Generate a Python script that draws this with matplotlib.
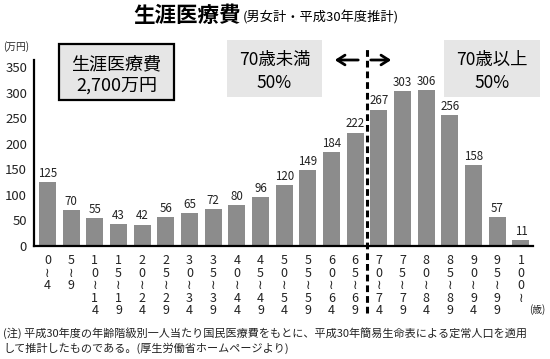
import matplotlib
matplotlib.use("Agg")
import matplotlib.pyplot as plt
from matplotlib.patches import Rectangle

plt.rcParams['font.family'] = ['Noto Sans CJK JP', 'DejaVu Sans']

age_groups = ["0\n≀\n4", "5\n≀\n9", "1\n0\n≀\n1\n4", "1\n5\n≀\n1\n9", "2\n0\n≀\n2\n4",
              "2\n5\n≀\n2\n9", "3\n0\n≀\n3\n4", "3\n5\n≀\n3\n9", "4\n0\n≀\n4\n4",
              "4\n5\n≀\n4\n9", "5\n0\n≀\n5\n4", "5\n5\n≀\n5\n9", "6\n0\n≀\n6\n4",
              "6\n5\n≀\n6\n9", "7\n0\n≀\n7\n4", "7\n5\n≀\n7\n9", "8\n0\n≀\n8\n4",
              "8\n5\n≀\n8\n9", "9\n0\n≀\n9\n4", "9\n5\n≀\n9\n9", "1\n0\n0\n≀"]
costs = [125, 70, 55, 43, 42, 56, 65, 72, 80, 96, 120, 149, 184, 222,
         267, 303, 306, 256, 158, 57, 11]
y_ticks = [0, 50, 100, 150, 200, 250, 300, 350]

W, H = 550, 359
fig = plt.figure(figsize=(5.5, 3.59), dpi=100)

def fx(px):
    return px / W

def fy(py):
    return 1 - py / H

ax = fig.add_axes([fx(34), fy(246), fx(533) - fx(34), fy(60) - fy(246)])
x = list(range(len(costs)))
bars = ax.bar(x, costs, width=0.72, color='#8c8c8c', zorder=2)
for xi, v in zip(x, costs):
    ax.annotate(str(v), (xi, v), xytext=(0, 1.5), textcoords='offset points',
                ha='center', va='bottom', fontsize=8.3, color='#222222')

ax.set_xlim(-0.57, 20.51)
ax.set_ylim(0, 364)
ax.set_yticks(y_ticks)
ax.set_yticklabels([str(t) for t in y_ticks], fontsize=9.5)
ax.set_xticks(x)
ax.set_xticklabels(age_groups, fontsize=9, linespacing=0.95, va='top')
ax.tick_params(axis='both', length=0, colors='#222222')
ax.tick_params(axis='y', pad=5)
ax.tick_params(axis='x', pad=6)
for s in ['top', 'right']:
    ax.spines[s].set_visible(False)
ax.spines['left'].set_linewidth(1.6)
ax.spines['bottom'].set_linewidth(1.6)

# dashed divider between 65-69 and 70-74
ax.axvline(13.5, ymin=-0.36, ymax=1.06, color='black', lw=2.2,
           linestyle=(0, (2.2, 1.3)), clip_on=False, zorder=3)

# arrows
ax.annotate('', xy=(fx(332), fy(60)), xytext=(fx(361), fy(60)),
            xycoords='figure fraction', textcoords='figure fraction',
            arrowprops=dict(arrowstyle='->,head_length=0.55,head_width=0.35', lw=2.0, color='black'))
ax.annotate('', xy=(fx(394), fy(60)), xytext=(fx(368), fy(60)),
            xycoords='figure fraction', textcoords='figure fraction',
            arrowprops=dict(arrowstyle='->,head_length=0.55,head_width=0.35', lw=2.0, color='black'))

# title
fig.text(fx(133), fy(16), '生涯医療費', fontsize=15.5, fontweight='bold', ha='left', va='center')
fig.text(fx(243), fy(18), '(男女計・平成30年度推計)', fontsize=9.5, ha='left', va='center')

fig.text(fx(3), fy(47), '(万円)', fontsize=7, ha='left', va='center', color='#222222')
fig.text(fx(545), fy(310), '(歳)', fontsize=7, ha='right', va='center', color='#222222')

# boxes
fig.patches.append(Rectangle((fx(59), fy(100)), fx(174) - fx(59), fy(44) - fy(100),
                             transform=fig.transFigure, facecolor='#e6e6e6',
                             edgecolor='black', lw=1.6))
fig.text(fx(116.5), fy(64), '生涯医療費', fontsize=13, ha='center', va='center')
fig.text(fx(116.5), fy(86), '2,700万円', fontsize=13, ha='center', va='center')

fig.patches.append(Rectangle((fx(227), fy(97)), fx(322) - fx(227), fy(40) - fy(97),
                             transform=fig.transFigure, facecolor='#e6e6e6', edgecolor='none'))
fig.text(fx(274.5), fy(60), '70歳未満', fontsize=12.5, ha='center', va='center')
fig.text(fx(274.5), fy(83), '50%', fontsize=12.5, ha='center', va='center')

fig.patches.append(Rectangle((fx(444), fy(97)), fx(540) - fx(444), fy(40) - fy(97),
                             transform=fig.transFigure, facecolor='#e6e6e6', edgecolor='none'))
fig.text(fx(492), fy(60), '70歳以上', fontsize=12.5, ha='center', va='center')
fig.text(fx(492), fy(83), '50%', fontsize=12.5, ha='center', va='center')

# footnote
fig.text(fx(3), fy(333), '(注) 平成30年度の年齢階級別一人当たり国民医療費をもとに、平成30年簡易生命表による定常人口を適用',
         fontsize=8, ha='left', va='center', color='#222222')
fig.text(fx(3), fy(348), 'して推計したものである。(厚生労働省ホームページより)',
         fontsize=8, ha='left', va='center', color='#222222')

fig.savefig('out.png', dpi=100)
